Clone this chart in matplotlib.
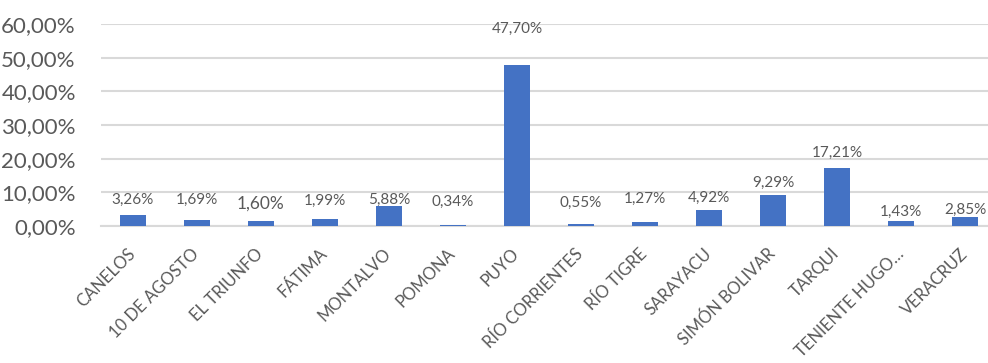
import matplotlib.pyplot as plt
from matplotlib.ticker import FuncFormatter

plt.rcParams['font.family'] = ['Lato', 'DejaVu Sans']

# parroquias y porcentajes
parroquias = ['CANELOS', '10 DE AGOSTO', 'EL TRIUNFO', 'FÁTIMA', 'MONTALVO', 'POMONA',
              'PUYO', 'RÍO CORRIENTES', 'RÍO TIGRE', 'SARAYACU', 'SIMÓN BOLIVAR',
              'TARQUI', 'TENIENTE HUGO…', 'VERACRUZ']
porcentajes = [3.26, 1.69, 1.60, 1.99, 5.88, 0.34, 47.70, 0.55, 1.27, 4.92, 9.29, 17.21, 1.43, 2.85]

# label placement (px above bar top), Excel had them moved around by hand
label_offsets = [15, 21, 17, 19, 6, 23, 37, 21, 23, 12, 12, 15, 9, 7]

gray = '#595959'
blue = '#4472c4'

fig = plt.figure(figsize=(9.88, 3.63), dpi=100)
ax = fig.add_axes([0.102, 0.377, 0.898, 0.557])

x = range(len(parroquias))
bars = ax.bar(x, porcentajes, width=0.4, color=blue, zorder=3)

for i, (b, v) in enumerate(zip(bars, porcentajes)):
    txt = f'{v:.2f}%'.replace('.', ',')
    size = 12.5 if parroquias[i] == 'EL TRIUNFO' else 11
    ax.annotate(txt, (b.get_x() + b.get_width() / 2, v),
                xytext=(0, label_offsets[i] * 0.72), textcoords='offset points',
                ha='center', va='center', fontsize=size, color=gray)

ax.set_ylim(0, 60)
ax.set_yticks(range(0, 61, 10))
ax.yaxis.set_major_formatter(FuncFormatter(lambda v, p: f'{v:.2f}%'.replace('.', ',')))
ax.set_xlim(-0.5, 13.36)
ax.set_xticks(list(x))
ax.set_xticklabels(parroquias, rotation=45, ha='right', va='center',
                   rotation_mode='anchor', fontsize=12, color=gray)
ax.tick_params(axis='x', length=0, pad=18)
ax.tick_params(axis='y', length=0, pad=18, labelsize=16, labelcolor=gray)

ax.grid(axis='y', color='#d9d9d9', linewidth=1.5, zorder=0)
for s in ['top', 'right', 'left']:
    ax.spines[s].set_visible(False)
ax.spines['bottom'].set_color('#d9d9d9')
ax.spines['bottom'].set_linewidth(1.5)

fig.savefig('out.png', dpi=100)
